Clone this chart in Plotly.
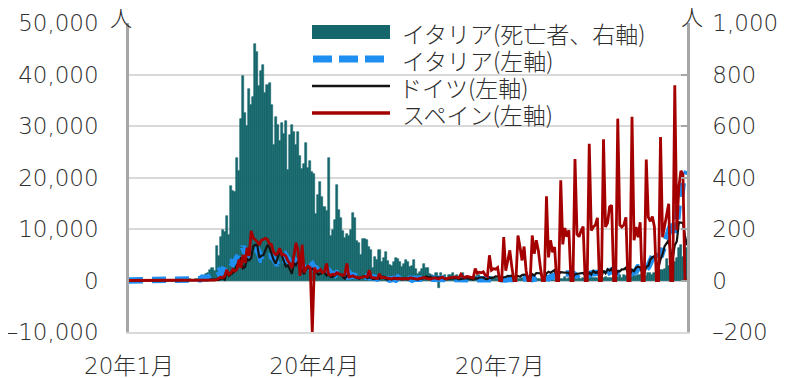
import pandas as pd
import plotly.graph_objects as go

# ---------------- data (daily, from 2020-01-25 to 2020-10-25) ----------------
start_date = "2020-01-25"

italy_deaths = [
    # Jan 25-31
    0, 0, 0, 0, 0, 0, 0,
    # Feb
    0, 0, 0, 0, 0, 0, 0, 0, 0, 0, 0, 0, 0, 0, 0, 0, 0, 0, 0, 0,
    1, 1, 1, 4, 3, 2, 5, 4, 8,
    # Mar
    5, 18, 27, 28, 41, 49, 36, 133, 97, 168, 196, 189, 250, 175, 368, 349,
    345, 475, 427, 627, 793, 651, 601, 743, 683, 712, 919, 889, 756, 812, 837,
    # Apr
    727, 760, 766, 681, 525, 636, 604, 542, 610, 570, 619, 431, 566, 602, 578,
    525, 575, 482, 433, 454, 534, 437, 464, 420, 415, 260, 333, 382, 323, 285,
    # May
    269, 474, 174, 195, 236, 369, 274, 243, 194, 165, 179, 172, 195, 262, 242,
    153, 145, 99, 162, 161, 156, 130, 119, 50, 92, 78, 117, 70, 87, 111, 75,
    # Jun
    60, 55, 71, 88, 85, 72, 53, 65, 79, 71, 53, 56, 78, 44, 26,
    34, 43, 66, 47, 49, 24, 23, 18, 30, -31, 30, 8, 22, 6, 23,
    # Jul
    21, 30, 15, 21, 7, 8, 30, 12, 17, 12, 7, 7, 13, 17, 20, 11,
    13, 9, 3, 13, 15, 9, 11, 5, 5, 5, 2, 11, 6, 3, 5,
    # Aug
    3, 5, 4, 6, 10, 6, 6, 3, 13, 4, 6, 10, 5, 6, 3, 4,
    7, 4, 6, 3, 3, 7, 2, 4, 5, 13, 5, 9, 1, 1, 9,
    # Sep
    6, 10, 6, 11, 5, 7, 10, 14, 10, 10, 10, 7, 6, 9, 14,
    9, 11, 10, 15, 14, 12, 20, 11, 20, 17, 24, 15, 14, 24, 19,
    # Oct 1-25
    23, 23, 27, 18, 16, 31, 28, 22, 28, 29, 26, 39, 41, 43, 83,
    55, 47, 69, 73, 89, 127, 136, 91, 151, 128,
]

italy_cases = [
    0, 0, 0, 0, 0, 0, 2,
    0, 0, 0, 0, 0, 1, 0, 0, 0, 0, 0, 0, 0, 0, 0, 0, 0, 0, 0, 0,
    17, 59, 76, 74, 93, 131, 202, 233, 240,
    566, 342, 466, 587, 769, 778, 1247, 1492, 1797, 977, 2313, 2651, 2547, 3497, 3590, 3233,
    3526, 4207, 5322, 5986, 6557, 5560, 4789, 5249, 5210, 6203, 5909, 5974, 5217, 4050, 4053,
    4782, 4668, 4585, 4805, 4316, 3599, 3039, 3836, 4204, 3951, 4694, 4092, 3153, 2972, 2667,
    3786, 3493, 3491, 3047, 2256, 2729, 3370, 2646, 3021, 2357, 2324, 1739, 2091, 2086, 1872,
    1965, 1900, 1389, 1221, 1075, 1444, 1401, 1327, 1083, 802, 744, 1402, 888, 992, 789, 875,
    675, 451, 813, 665, 642, 652, 669, 531, 300, 397, 584, 593, 516, 416, 355,
    178, 318, 321, 177, 518, 270, 197, 280, 283, 202, 379, 163, 346, 338, 301,
    210, 329, 333, 251, 262, 224, 218, 122, 190, 296, 259, 175, 174, 126, 142,
    187, 201, 223, 235, 192, 208, 138, 193, 229, 276, 188, 234, 169, 114, 162, 230,
    233, 249, 219, 190, 129, 282, 306, 252, 275, 255, 170, 212, 289, 386, 379,
    295, 239, 159, 190, 384, 402, 552, 347, 463, 259, 412, 481, 523, 574, 629, 479,
    320, 403, 642, 845, 947, 1071, 1210, 953, 878, 1367, 1411, 1462, 1444, 1365, 996,
    978, 1326, 1397, 1733, 1695, 1297, 1108, 1370, 1434, 1597, 1616, 1501, 1458, 1008, 1229,
    1452, 1585, 1907, 1638, 1587, 1350, 1392, 1640, 1786, 1912, 1869, 1766, 1494, 1648, 1851,
    2548, 2499, 2844, 2578, 2257, 2677, 3678, 4458, 5372, 5724, 5456, 4619, 5901, 7332, 8804,
    10010, 10925, 11705, 9338, 10874, 15199, 16079, 19143, 19644, 21273,
]

germany_cases = [
    0, 0, 1, 3, 0, 0, 1,
    2, 0, 0, 2, 0, 1, 0, 0, 0, 0, 2, 0, 0, 0, 0, 0, 0, 0, 0, 0,
    0, 0, 0, 0, 1, 10, 19, 2, 31,
    51, 29, 37, 66, 220, 188, 129, 241, 136, 281, 451, 170, 1597, 910, 1210, 1477,
    1985, 3070, 2993, 4528, 2365, 2660, 4183, 3930, 4337, 6615, 6933, 6824, 4400, 4790, 4923,
    6064, 6922, 6365, 4933, 4031, 3251, 4289, 5633, 4885, 3990, 2737, 2946, 2218, 1287, 3394,
    2945, 3699, 2945, 1881, 1226, 2357, 2481, 2140, 2268, 1870, 1607, 1144, 1304, 1478, 1639,
    945, 1284, 679, 685, 947, 1284, 1209, 1251, 667, 357, 933, 1000, 798, 933, 620, 583,
    342, 513, 797, 745, 460, 638, 431, 289, 362, 432, 353, 741, 741, 286, 183,
    342, 213, 342, 394, 507, 301, 214, 350, 318, 242, 555, 394, 301, 250, 192,
    378, 345, 580, 770, 601, 687, 537, 587, 503, 630, 477, 687, 256, 298, 466,
    503, 446, 446, 422, 239, 291, 362, 442, 442, 378, 248, 159, 382, 351, 583, 534,
    583, 285, 252, 562, 454, 569, 815, 781, 305, 340, 633, 684, 902, 870, 955,
    240, 509, 879, 741, 1045, 1147, 1122, 555, 436, 1226, 966, 1445, 1449, 1415, 625, 561,
    1390, 1707, 1510, 1707, 2034, 772, 1278, 1627, 1576, 1507, 1571, 1479, 737, 610, 1218,
    1256, 1311, 1453, 1484, 945, 1078, 1499, 1176, 1892, 1484, 1630, 1122, 740, 1901, 1407,
    2194, 1916, 2297, 1345, 922, 1821, 1769, 2143, 2153, 2507, 1410, 1192, 2089, 1798, 2503,
    2673, 2563, 1410, 1382, 2639, 2828, 4058, 4516, 4721, 3483, 2467, 4122, 5132, 6638, 7334,
    7830, 5587, 4325, 6868, 7595, 11287, 11242, 11176, 8685, 6868,
]

spain_cases = [
    0, 0, 0, 0, 0, 0, 0,
    1, 0, 0, 0, 0, 0, 0, 0, 1, 0, 0, 0, 0, 0, 0, 0, 0, 0, 0, 0,
    0, 0, 0, 0, 4, 7, 2, 17, 13,
    39, 36, 45, 57, 37, 141, 100, 173, 400, 622, 582, 869, 2086, 1159, 1407, 2144,
    1806, 2162, 4053, 2447, 4964, 3394, 6368, 4749, 9630, 8271, 7933, 7516, 6875, 7846, 7967,
    8195, 7947, 7134, 6969, 5478, 5029, 5267, 6278, 5002, 5051, 4754, 3804, 3268, 2442, 5103,
    7304, 5891, 887, 6948, 1536, 2400, 2800, 2500, -10034, 2500, 1729, 1831, 2144, 1500, 1700,
    3300, 1200, 1000, 1200, 1100, 1500, 1300, 1100, 1000, 1200, 3300, 700, 800, 900, 700, 600,
    500, 600, 700, 800, 700, 2000, 600, 500, 500, 400, 1300, 500, 600, 500, 400,
    400, 300, 500, 400, 300, 400, 300, 300, 400, 300, 500, 400, 300, 300, 300,
    400, 500, 600, 400, 300, 300, 400, 500, 400, 300, 500, 600, 400, 300, 500,
    500, 600, 700, 600, 500, 1200, 700, 600, 800, 700, 600, 500, 2300, 1400, 1600, 1500,
    1700, 1000, 800, 4900, 2000, 2300, 2200, 2500, 0, 0, 8450, 1900, 3900, 5850, 2600,
    0, 0, 8750, 6500, 3900, 6600, 1900, 0, 0, 8750, 5200, 7800, 5850, 2600, 0, 0,
    16350, 4500, 7800, 5500, 6500, 0, 0, 19450, 7000, 10200, 8500, 9750, 0, 0, 23572,
    9000, 8500, 9700, 10476, 0, 0, 26560, 9700, 10400, 10764, 12183, 0, 0, 27404, 10400,
    11193, 14300, 14600, 0, 0, 31428, 10800, 10400, 10800, 12272, 0, 0, 31785, 7800, 10400,
    8400, 11325, 0, 0, 23480, 12300, 11500, 12423, 10400, 0, 0, 27856, 8400, 10400, 12300,
    14900, 0, 0, 37889, 9750, 18200, 21300, 20600, 0, 0,
]

x_tick_dates = ["2020-01-25", "2020-04-25", "2020-07-25"]
x_tick_labels = ["20年1月", "20年4月", "20年7月"]
left_ticks = [-10000, 0, 10000, 20000, 30000, 40000, 50000]
left_tick_labels = ["–10,000", "0", "10,000", "20,000", "30,000", "40,000", "50,000"]
right_ticks = [-200, 0, 200, 400, 600, 800, 1000]
right_tick_labels = ["–200", "0", "200", "400", "600", "800", "1,000"]

series_names = ["イタリア(死亡者、右軸)", "イタリア(左軸)", "ドイツ(左軸)", "スペイン(左軸)"]

# ---------------- styling ----------------
CJK = "Noto Sans CJK JP, Noto Sans, sans-serif"
NUM = "DejaVu Sans, Noto Sans CJK JP, sans-serif"
TEAL = "#16676c"
BLUE = "#1f8ef1"
BLACK = "#141414"
RED = "#a50000"
GRID = "#d9d9d9"
AXIS = "#a6a6a6"
TXT = "#2e2e2e"

dates = pd.date_range(start_date, periods=len(italy_cases), freq="D")

fig = go.Figure()
fig.add_trace(go.Bar(x=dates, y=italy_deaths, name=series_names[0],
                     marker=dict(color=TEAL, line=dict(width=0.6, color=TEAL)), yaxis="y"))
fig.add_trace(go.Scatter(x=dates, y=italy_cases, name=series_names[1], mode="lines",
                         line=dict(color=BLUE, width=6.5, dash="14px,9px"), yaxis="y2"))
fig.add_trace(go.Scatter(x=dates, y=germany_cases, name=series_names[2], mode="lines",
                         line=dict(color=BLACK, width=2.2), yaxis="y2"))
fig.add_trace(go.Scatter(x=dates, y=spain_cases, name=series_names[3], mode="lines",
                         line=dict(color=RED, width=2.8), yaxis="y2"))

# page is shown with an 8px body margin, so the figure is laid out 8px smaller
OFF = 8
W, H = 778, 370
L, T = 121, 15
pw, ph = 558, 309
R, B = W - L - pw, H - T - ph


def px(x):  # page pixel -> paper x
    return (x - OFF - L) / pw


def py(y):  # page pixel -> paper y
    return (T + ph - (y - OFF)) / ph


tickfont = dict(family=NUM, size=23, color=TXT, weight=300)

fig.update_layout(
    width=W, height=H,
    margin=dict(l=L, r=R, t=T, b=B, pad=0, autoexpand=False),
    paper_bgcolor="white", plot_bgcolor="white",
    showlegend=False, bargap=0,
    font=dict(family=CJK, size=23, color=TXT),
    xaxis=dict(type="date", range=[dates[0], dates[-1]], automargin=False,
               tickvals=x_tick_dates, ticktext=x_tick_labels,
               showgrid=False, zeroline=False,
               showline=True, linecolor=GRID, linewidth=2,
               ticks="", ticklabelstandoff=12, tickfont=tickfont),
    yaxis=dict(range=[-200, 1000], tickvals=right_ticks, ticktext=right_tick_labels,
               side="right", automargin=False,
               showgrid=True, gridcolor=GRID, gridwidth=2, zeroline=False,
               showline=True, linecolor=AXIS, linewidth=2.5,
               ticks="inside", ticklen=6, tickcolor=AXIS, tickwidth=2,
               ticklabelstandoff=18, tickfont=tickfont),
    yaxis2=dict(range=[-10000, 50000], tickvals=left_ticks, ticktext=left_tick_labels,
                side="left", automargin=False,
                overlaying="y", showgrid=False, zeroline=False,
                showline=True, linecolor=AXIS, linewidth=2.5,
                ticks="", ticklabelstandoff=23, tickfont=tickfont),
)

# unit labels
for ux, uy in [(121, 16), (692, 15)]:
    fig.add_annotation(x=px(ux), y=py(uy), xref="paper", yref="paper", text="人",
                       showarrow=False, xanchor="center", yanchor="middle",
                       font=dict(family=CJK, size=22, color=TXT, weight=300))

# custom legend (symbols + texts)
fig.add_shape(type="rect", xref="paper", yref="paper",
              x0=px(312), x1=px(390), y0=py(39), y1=py(25),
              fillcolor=TEAL, line=dict(width=0))
fig.add_shape(type="line", xref="paper", yref="paper",
              x0=px(313), x1=px(387), y0=py(59), y1=py(59),
              line=dict(color=BLUE, width=7, dash="19px,7px"))
fig.add_shape(type="line", xref="paper", yref="paper",
              x0=px(312), x1=px(390), y0=py(86), y1=py(86),
              line=dict(color=BLACK, width=2.7))
fig.add_shape(type="line", xref="paper", yref="paper",
              x0=px(312), x1=px(390), y0=py(113), y1=py(113),
              line=dict(color=RED, width=3.5))
legend_rows = [(400, 33), (400, 60), (397, 87), (400, 114)]
for name, (lx, ly) in zip(series_names, legend_rows):
    fig.add_annotation(x=px(lx), y=py(ly), xref="paper", yref="paper", text=name,
                       showarrow=False, xanchor="left", yanchor="middle",
                       font=dict(family=CJK, size=23, color=TXT, weight=300))

fig.write_html("out.html")
